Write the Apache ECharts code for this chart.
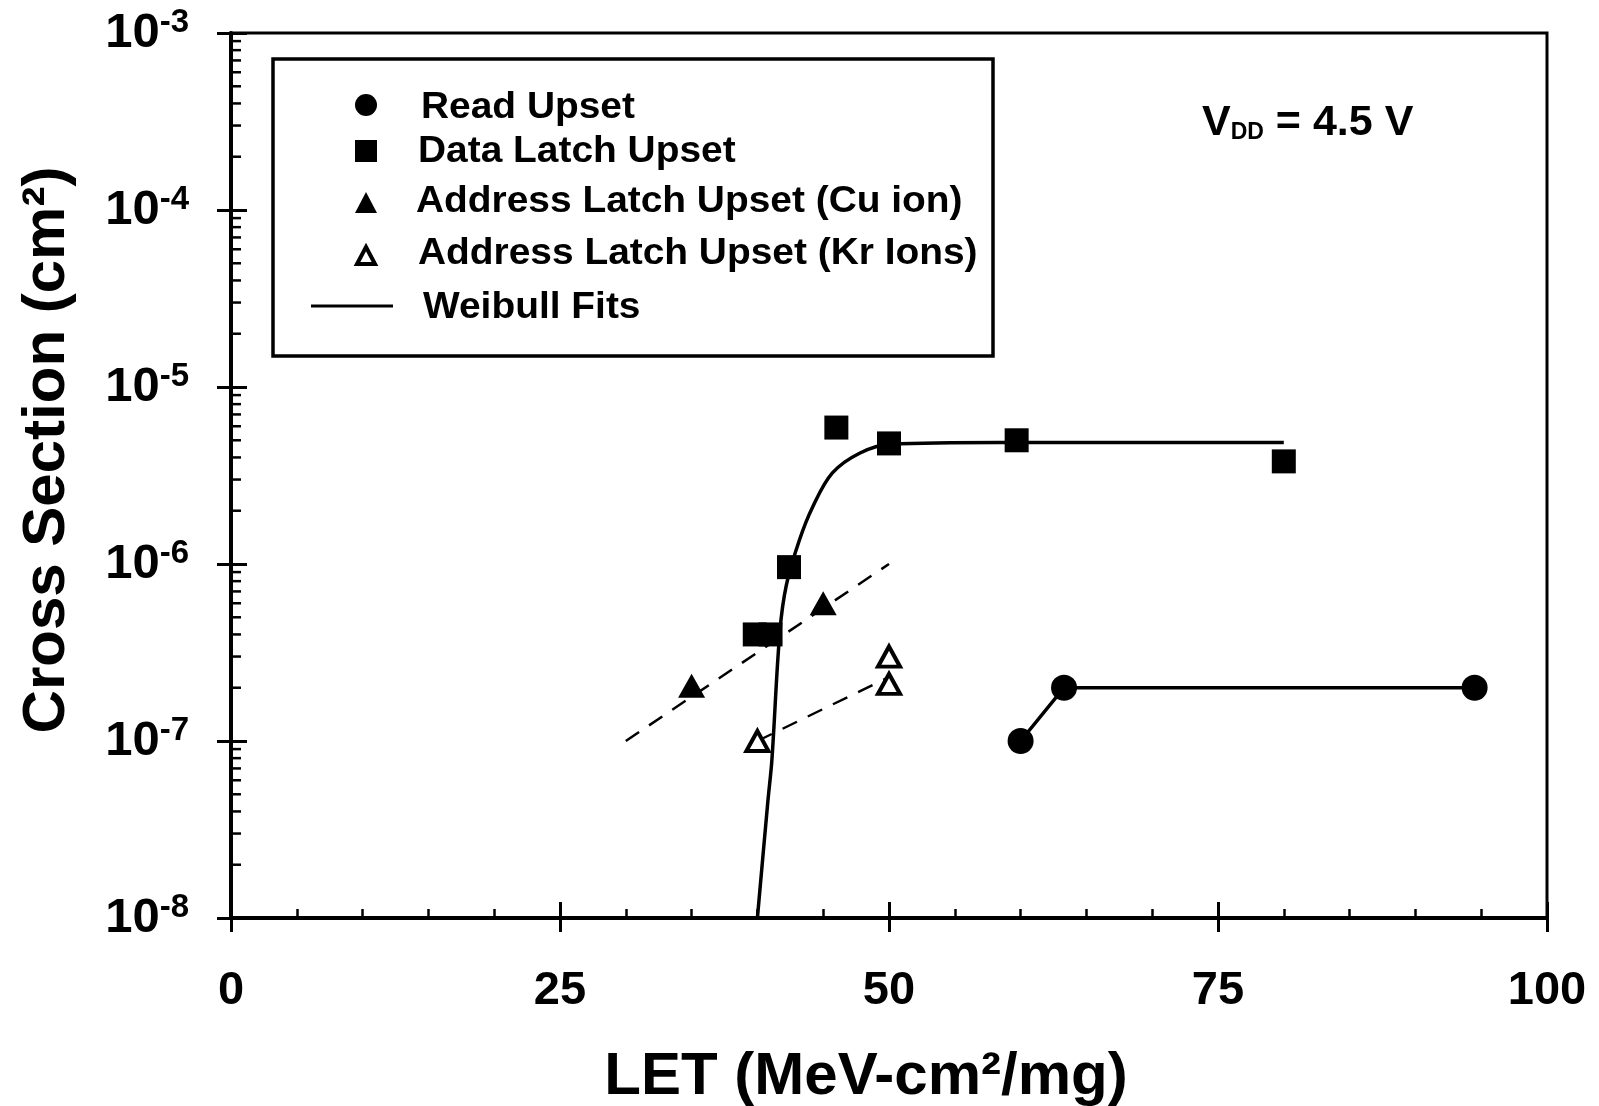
<!DOCTYPE html>
<html><head><meta charset="utf-8">
<script src="https://cdn.jsdelivr.net/npm/echarts@6/dist/echarts.min.js"></script>
<style>html,body{margin:0;padding:0;background:#fff}#c{width:1599px;height:1106px}</style>
</head><body><div id="c"></div>
<script>
// ---- data ----
const readX = [60, 63.3, 94.5];
const readY = [1.0e-7, 2.0e-7, 2.0e-7];
const readFitX = [60, 63.3, 94.5];
const readFitY = [1.0e-7, 2.0e-7, 2.0e-7];

const latchX = [39.8, 41.0, 42.4, 46.0, 50.0, 59.7, 80.0];
const latchY = [4.0e-7, 4.0e-7, 9.6e-7, 5.9e-6, 4.8e-6, 5.0e-6, 3.8e-6];
const latchFitX = [40.0, 40.8, 41.1, 41.7, 42.2, 43.2, 44.2, 45.7, 47.8, 50.1, 58.4, 80.0];
const latchFitY = [1.0e-8, 4.6e-8, 7.8e-8, 4.1e-7, 7.6e-7, 1.37e-6, 2.1e-6, 3.27e-6, 4.24e-6, 4.75e-6, 4.85e-6, 4.85e-6];

const cuX = [35, 45];
const cuY = [2.05e-7, 6.0e-7];
const cuFitX = [30, 50];
const cuFitY = [1.0e-7, 1.0e-6];

const krX = [40, 50, 50];
const krY = [1.0e-7, 3.0e-7, 2.1e-7];
const krFitX = [40, 50];
const krFitY = [1.0e-7, 2.3e-7];

const xTicks = [0, 25, 50, 75, 100];
const yExponents = [-8, -7, -6, -5, -4, -3];
const minorMultipliers = [2, 3, 4, 5, 6, 7, 8, 9];

const legendNames = ['Read Upset', 'Data Latch Upset', 'Address Latch Upset (Cu ion)', 'Address Latch Upset (Kr Ions)', 'Weibull Fits'];
const xTitle = 'LET (MeV-cm\u00B2/mg)';
const yTitle = 'Cross Section (cm\u00B2)';

// ---- build ----
const zip = (xs, ys) => xs.map((x, i) => [x, ys[i]]);
const FONT = '"Liberation Sans", Arial, Helvetica, sans-serif';
const chart = echarts.init(document.getElementById('c'), null, {renderer: 'canvas'});

const yMin = Math.pow(10, yExponents[0]);
const yMax = Math.pow(10, yExponents[yExponents.length - 1]);

// minor tick values of the log axis (2..9 within each decade)
const minorTickVals = [];
yExponents.slice(0, -1).forEach(e => minorMultipliers.forEach(m => minorTickVals.push([0, m * Math.pow(10, e)])));

const lineBase = {type: 'line', showSymbol: false, symbol: 'none', z: 2, silent: true};

const option = {
  backgroundColor: '#fff',
  animation: false,
  grid: {left: 231, right: 52, top: 33, bottom: 188, show: true, borderColor: '#000', borderWidth: 3, backgroundColor: 'transparent'},
  xAxis: [
    {type: 'value', min: xTicks[0], max: xTicks[xTicks.length - 1], interval: 25, position: 'bottom',
     axisLine: {onZero: false, lineStyle: {color: '#000', width: 4}},
     axisTick: {inside: true, length: 16, lineStyle: {color: '#000', width: 3}},
     minorTick: {show: true, splitNumber: 5, length: 9, lineStyle: {color: '#000', width: 2.5}},
     splitLine: {show: false},
     axisLabel: {margin: 50, color: '#000', fontFamily: FONT, fontWeight: 'bold', fontSize: 47}},
    {type: 'value', min: xTicks[0], max: xTicks[xTicks.length - 1], interval: 25, position: 'bottom',
     axisLine: {show: false, onZero: false},
     axisTick: {inside: false, length: 14, lineStyle: {color: '#000', width: 3}},
     splitLine: {show: false}, axisLabel: {show: false}}
  ],
  yAxis: [
    {type: 'log', logBase: 10, min: yMin, max: yMax, position: 'left',
     axisLine: {onZero: false, lineStyle: {color: '#000', width: 4}},
     axisTick: {inside: true, length: 16, lineStyle: {color: '#000', width: 3}},
     splitLine: {show: false},
     axisLabel: {margin: 42, color: '#000',
       formatter: v => '{b|10}{s|' + Math.round(Math.log10(v)) + '}',
       rich: {
         b: {fontFamily: FONT, fontWeight: 'bold', fontSize: 49, color: '#000'},
         s: {fontFamily: FONT, fontWeight: 'bold', fontSize: 33, color: '#000', padding: [0, 0, 20, 0]}
       }}},
    {type: 'log', logBase: 10, min: yMin, max: yMax, position: 'left',
     axisLine: {show: false, onZero: false},
     axisTick: {inside: false, length: 14, lineStyle: {color: '#000', width: 3}},
     splitLine: {show: false}, axisLabel: {show: false}}
  ],
  series: [
    {type: 'custom', name: 'yMinorTicks', silent: true, z: 3, clip: false, data: minorTickVals,
     renderItem: (params, api) => {
       const p = api.coord([api.value(0), api.value(1)]);
       return {type: 'line', shape: {x1: p[0], y1: p[1], x2: p[0] + 10, y2: p[1]}, style: {stroke: '#000', lineWidth: 2.5}};
     }},
    Object.assign({}, lineBase, {name: 'readFit', data: zip(readFitX, readFitY), lineStyle: {color: '#000', width: 3.5}}),
    Object.assign({}, lineBase, {name: 'latchFit', data: zip(latchFitX, latchFitY), smooth: 0.35, lineStyle: {color: '#000', width: 3.5}}),
    Object.assign({}, lineBase, {name: 'cuFit', data: zip(cuFitX, cuFitY), lineStyle: {color: '#000', width: 2.5, type: [16, 12]}}),
    Object.assign({}, lineBase, {name: 'krFit', data: zip(krFitX, krFitY), lineStyle: {color: '#000', width: 2.5, type: [16, 12]}}),
    {type: 'scatter', name: legendNames[0], data: zip(readX, readY), symbol: 'circle', symbolSize: 26, itemStyle: {color: '#000', opacity: 1}, z: 5},
    {type: 'scatter', name: legendNames[1], data: zip(latchX, latchY), symbol: 'rect', symbolSize: 24, itemStyle: {color: '#000', opacity: 1}, z: 5},
    {type: 'scatter', name: legendNames[2], data: zip(cuX, cuY), symbol: 'triangle', symbolSize: [27, 24], itemStyle: {color: '#000', opacity: 1}, z: 5},
    {type: 'scatter', name: legendNames[3], data: zip(krX, krY), symbol: 'triangle', symbolSize: [22, 20], itemStyle: {color: '#fff', borderColor: '#000', borderWidth: 4, opacity: 1}, z: 5}
  ],
  graphic: [
    // y-axis title
    {type: 'text', x: 47, y: 450, rotation: Math.PI / 2, z: 10,
     style: {text: yTitle, font: 'bold 60px ' + FONT, fill: '#000', textAlign: 'center', textVerticalAlign: 'middle'}},
    // x-axis title
    {type: 'text', x: 866, y: 1077, z: 10,
     style: {text: xTitle, font: 'bold 60px ' + FONT, fill: '#000', textAlign: 'center', textVerticalAlign: 'middle'}},
    // VDD note
    {type: 'text', x: 1202, y: 123, z: 10,
     style: {rich: {a: {font: 'bold 43px ' + FONT, fill: '#000'}, d: {font: 'bold 23px ' + FONT, fill: '#000', padding: [20, 0, 0, 0]}},
             text: '{a|V}{d|DD}{a| = 4.5 V}', textAlign: 'left', textVerticalAlign: 'middle'}},
    // legend box
    {type: 'rect', z: 10, shape: {x: 273, y: 59, width: 720, height: 297}, style: {fill: '#fff', stroke: '#000', lineWidth: 3.5}},
    {type: 'circle', z: 11, shape: {cx: 366, cy: 105, r: 11}, style: {fill: '#000'}},
    {type: 'rect', z: 11, shape: {x: 355, y: 140, width: 22, height: 22}, style: {fill: '#000'}},
    {type: 'polygon', z: 11, shape: {points: [[366, 192], [377, 213], [355, 213]]}, style: {fill: '#000'}},
    {type: 'polygon', z: 11, shape: {points: [[366, 247], [375, 264], [357, 264]]}, style: {fill: '#fff', stroke: '#000', lineWidth: 4}},
    {type: 'line', z: 11, shape: {x1: 311, y1: 306, x2: 393, y2: 306}, style: {stroke: '#000', lineWidth: 3}},
    {type: 'text', z: 11, x: 421, y: 108, scaleX: 1.08, style: {text: legendNames[0], font: 'bold 36px ' + FONT, fill: '#000', textVerticalAlign: 'middle'}},
    {type: 'text', z: 11, x: 418, y: 152, scaleX: 1.08, style: {text: legendNames[1], font: 'bold 36px ' + FONT, fill: '#000', textVerticalAlign: 'middle'}},
    {type: 'text', z: 11, x: 416, y: 202, scaleX: 1.08, style: {text: legendNames[2], font: 'bold 36px ' + FONT, fill: '#000', textVerticalAlign: 'middle'}},
    {type: 'text', z: 11, x: 418, y: 254, scaleX: 1.08, style: {text: legendNames[3], font: 'bold 36px ' + FONT, fill: '#000', textVerticalAlign: 'middle'}},
    {type: 'text', z: 11, x: 423, y: 308, scaleX: 1.08, style: {text: legendNames[4], font: 'bold 36px ' + FONT, fill: '#000', textVerticalAlign: 'middle'}}
  ]
};
chart.setOption(option);
</script>
</body></html>
